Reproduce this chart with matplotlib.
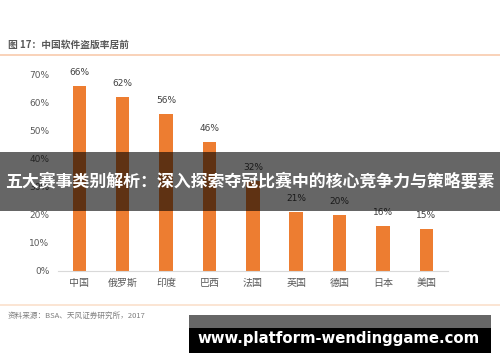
import matplotlib
matplotlib.use("Agg")
import matplotlib.pyplot as plt
from matplotlib.patches import Rectangle
from matplotlib.lines import Line2D

# === Data ===
countries = ["中国", "俄罗斯", "印度", "巴西", "法国", "英国", "德国", "日本", "美国"]
piracy_rate = [66, 62, 56, 46, 32, 21, 20, 16, 15]
y_ticks = [0, 10, 20, 30, 40, 50, 60, 70]

title = "图 17：中国软件盗版率居前"
source = "资料来源：BSA、天风证券研究所，2017"
banner = "五大赛事类别解析：深入探索夺冠比赛中的核心竞争力与策略要素"
site = "www.platform-wendinggame.com"

plt.rcParams['font.family'] = ['Noto Sans CJK SC', 'DejaVu Sans']

W, H = 500, 362
fig = plt.figure(figsize=(W / 100, H / 100), dpi=100)
fig.patch.set_facecolor("white")

def px(x, y):
    # pixel coords (top-left origin) -> figure fraction
    return x / W, 1 - y / H

# === Axes ===
ax = fig.add_axes([57.7 / W, 91 / H, 390.3 / W, 196 / H])
xs = range(len(countries))
ax.bar(xs, piracy_rate, width=0.31, color="#ED7D31", zorder=2)
for x, v in zip(xs, piracy_rate):
    ax.text(x, v + 3.2, f"{v}%", ha="center", va="bottom", fontsize=6.5,
            color="#404040", family="DejaVu Sans", clip_on=False)

ax.set_xlim(-0.5, len(countries) - 0.5)
ax.set_ylim(0, 70)
ax.set_yticks(y_ticks)
ax.set_yticklabels([f"{t}%" for t in y_ticks], family="DejaVu Sans")
ax.set_xticks(list(xs))
ax.set_xticklabels(countries)
ax.tick_params(axis="y", length=0, labelsize=6.5, labelcolor="#595959", pad=6)
ax.tick_params(axis="x", length=0, labelsize=7.2, labelcolor="#595959", pad=5)
for s in ["top", "right", "left"]:
    ax.spines[s].set_visible(False)
ax.spines["bottom"].set_color("#d9d9d9")
ax.set_facecolor("none")

# === Header / footer ===
x0, y0 = px(8, 45)
fig.text(x0, y0, title, fontsize=7, fontweight="bold", color="#595959", va="center")
fig.add_artist(Line2D([0, 1], [px(0, 55)[1]] * 2, color="#F8CBAD", lw=1.2))
fig.add_artist(Line2D([0, 1], [px(0, 305)[1]] * 2, color="#FBE0CC", lw=1.2))
x0, y0 = px(8, 316)
fig.text(x0, y0, source, fontsize=5.5, color="#7f7f7f", va="center")

# === Overlay banner ===
fig.add_artist(Rectangle(px(0, 211), 1, 59 / H, transform=fig.transFigure,
                         facecolor="black", alpha=0.6, edgecolor="none", zorder=5))
x0, y0 = px(250, 182)
fig.text(x0, y0, banner, fontsize=12.2, fontweight="bold", color="white",
         ha="center", va="center", zorder=6)

# === Site watermark ===
fig.add_artist(Rectangle(px(189, 328), 302 / W, 13 / H, transform=fig.transFigure,
                         facecolor="black", alpha=0.6, edgecolor="none", zorder=5))
fig.add_artist(Rectangle(px(189, 353), 302 / W, 25 / H, transform=fig.transFigure,
                         facecolor="black", edgecolor="none", zorder=5))
x0, y0 = px(339, 339)
fig.text(x0, y0, site, fontsize=10.7, fontweight="bold", color="white",
         ha="center", va="center", family="DejaVu Sans", zorder=6)

fig.savefig("out.png", dpi=100)
